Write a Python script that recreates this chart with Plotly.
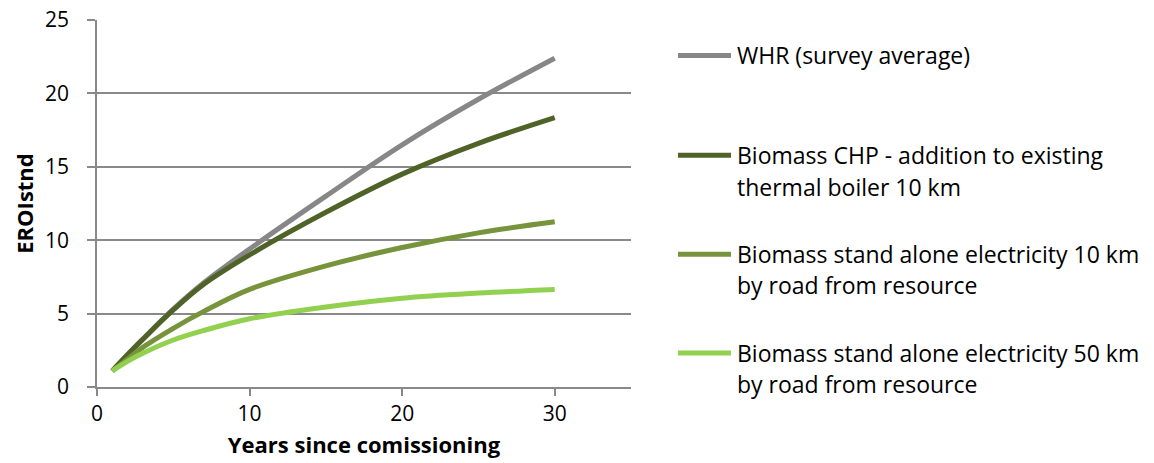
import plotly.graph_objects as go

years = [1, 2, 3, 5, 7, 10, 15, 20, 25, 30]
whr = [1.1, 2.2, 3.25, 5.3, 7.1, 9.4, 13.0, 16.5, 19.6, 22.4]
chp = [1.1, 2.2, 3.25, 5.25, 7.0, 9.0, 11.9, 14.5, 16.6, 18.35]
sa10 = [1.1, 1.9, 2.7, 4.0, 5.15, 6.65, 8.25, 9.5, 10.5, 11.25]
sa50 = [1.1, 1.75, 2.3, 3.2, 3.85, 4.65, 5.45, 6.05, 6.4, 6.65]

series_names = [
    ["WHR (survey average)"],
    ["Biomass CHP - addition to existing", "thermal boiler 10 km"],
    ["Biomass stand alone electricity 10 km", "by road from resource"],
    ["Biomass stand alone electricity 50 km", "by road from resource"],
]
series_values = [whr, chp, sa10, sa50]
colors = ["#878787", "#4F6228", "#77933C", "#92D050"]

x_ticks = [0, 10, 20, 30]
y_ticks = [0, 5, 10, 15, 20, 25]

W, H = 1154, 463
L, R, T, B = 97, 631, 19.5, 387  # plot area in page pixels (body margin removed below)

FONT = "Open Sans"
fig = go.Figure()
for name, vals, col in zip(series_names, series_values, colors):
    fig.add_trace(go.Scatter(
        x=years, y=vals, mode="lines", name=" ".join(name),
        line=dict(color=col, width=5, shape="spline", smoothing=1.0),
        showlegend=False,
    ))

def px2paper(px, py):
    return (px - L) / (R - L), (B - py) / (B - T)

shapes = []
annotations = []
leg_rows = [[55], [155, 187], [254, 285], [353, 384]]
for lines, rows, col in zip(series_names, leg_rows, colors):
    x0, y0 = px2paper(678, rows[0])
    x1, _ = px2paper(731, rows[0])
    shapes.append(dict(type="line", xref="paper", yref="paper", x0=x0, x1=x1, y0=y0, y1=y0,
                       line=dict(color=col, width=5)))
    for txt, r in zip(lines, rows):
        ax, ay = px2paper(735, r)
        annotations.append(dict(text=txt, xref="paper", yref="paper", x=ax, y=ay,
                                xanchor="left", yanchor="middle", showarrow=False,
                                font=dict(family=FONT, size=23, color="#000000")))

fig.update_layout(
    width=W, height=H,
    margin=dict(l=L, r=W - R, t=T, b=H - B, pad=0),
    paper_bgcolor="white", plot_bgcolor="white",
    font=dict(family=FONT, size=21, color="#000000"),
    shapes=shapes, annotations=annotations,
    xaxis=dict(
        range=[0, 35], tickvals=x_ticks, showgrid=False, zeroline=False,
        showline=True, linecolor="#898989", linewidth=1.5, automargin=False,
        ticks="outside", ticklen=7, tickcolor="#898989", tickwidth=1.5,
        tickfont=dict(family=FONT, size=21), ticklabeloverflow="allow",
        title=dict(text="<b>Years since comissioning</b>", font=dict(family=FONT, size=22), standoff=12),
    ),
    yaxis=dict(
        range=[0, 25], tickvals=y_ticks, showgrid=True, gridcolor="#898989", gridwidth=1.5,
        zeroline=False, showline=True, linecolor="#898989", linewidth=1.5, automargin=False,
        ticks="outside", ticklen=8, tickcolor="#898989", tickwidth=1.5,
        tickfont=dict(family=FONT, size=21), ticklabelstandoff=14, ticklabeloverflow="allow",
        title=dict(text="<b>EROIstnd</b>", font=dict(family=FONT, size=22), standoff=5),
    ),
)

fig.write_html("out.html", config={"displayModeBar": False},
               post_script="document.body.style.margin='0';")
